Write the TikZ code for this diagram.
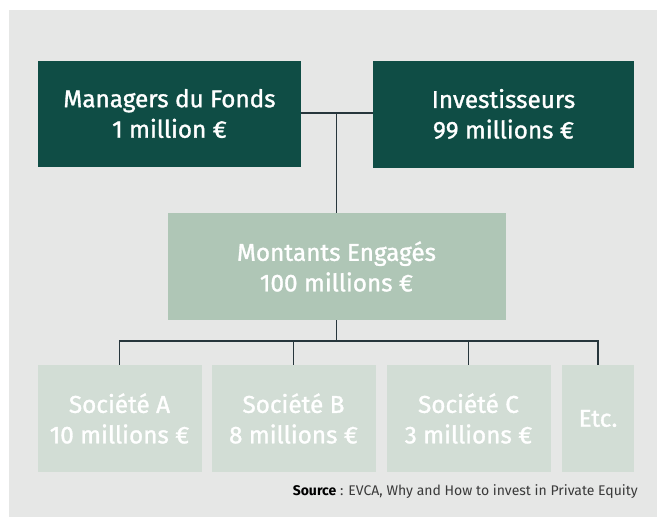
\documentclass[tikz,border=0pt]{standalone}
\usepackage{fontspec}
\setmainfont{Fira Sans}
\newfontfamily\boxfont[FakeBold=1.3]{Fira Sans}
\definecolor{bg}{HTML}{E6E7E6}
\definecolor{dk}{HTML}{0F4D45}
\definecolor{md}{HTML}{AFC6B6}
\definecolor{lt}{HTML}{D2DDD5}
\definecolor{ln}{HTML}{27363C}
\definecolor{src}{HTML}{3A3A3A}
\tikzset{
  box/.style={inner sep=0pt, align=center, text=white, font=\boxfont\fontsize{24.3}{30.5}\selectfont},
  dkbox/.style={box, fill=dk},
  mdbox/.style={box, fill=md},
  ltbox/.style={box, fill=lt},
  conn/.style={draw=ln, line width=1.2pt}
}
\begin{document}
\begin{tikzpicture}[x=1pt,y=-1pt]
\useasboundingbox (0,0) rectangle (657,517);
\fill[white] (0,0) rectangle (657,517);
\fill[bg] (9,10) rectangle (657,517);
\node[dkbox, minimum width=263pt, minimum height=106pt] (mgr) at (169.5,113.5) {Managers du Fonds\\1 million €};
\node[dkbox, minimum width=261pt, minimum height=107pt] (inv) at (503.5,114) {Investisseurs\\99 millions €};
\node[mdbox, minimum width=338pt, minimum height=107pt] (mont) at (336.5,266.5) {Montants Engagés\\100 millions €};
\node[ltbox, minimum width=164pt, minimum height=107pt] (a) at (119.5,418.5) {Société A\\10 millions €};
\node[ltbox, minimum width=164pt, minimum height=107pt] (b) at (293.5,418.5) {Société B\\8 millions €};
\node[ltbox, minimum width=164pt, minimum height=107pt] (c) at (468.5,418.5) {Société C\\3 millions €};
\node[ltbox, minimum width=72pt, minimum height=107pt] (etc) at (598,418.5) {Etc.};
\coordinate (j1) at (336.7,113);
\coordinate (j2) at (336.7,341);
\draw[conn] (mgr.east |- j1) -- (inv.west |- j1);
\draw[conn] (j1) -- (mont.north -| j1);
\draw[conn] (mont.south -| j2) -- (j2);
\draw[conn] (a.north) -- (a.north |- j2) -- (etc.north |- j2) -- (etc.north);
\draw[conn] (b.north) -- (b.north |- j2);
\draw[conn] (c.north) -- (c.north |- j2);
\node[anchor=base east, inner sep=0pt, text=src, font=\fontsize{14}{16}\selectfont] (s) at (638,495) {\textbf{\textcolor{black}{Source}} : EVCA, Why and How to invest in Private Equity};
\end{tikzpicture}
\end{document}
